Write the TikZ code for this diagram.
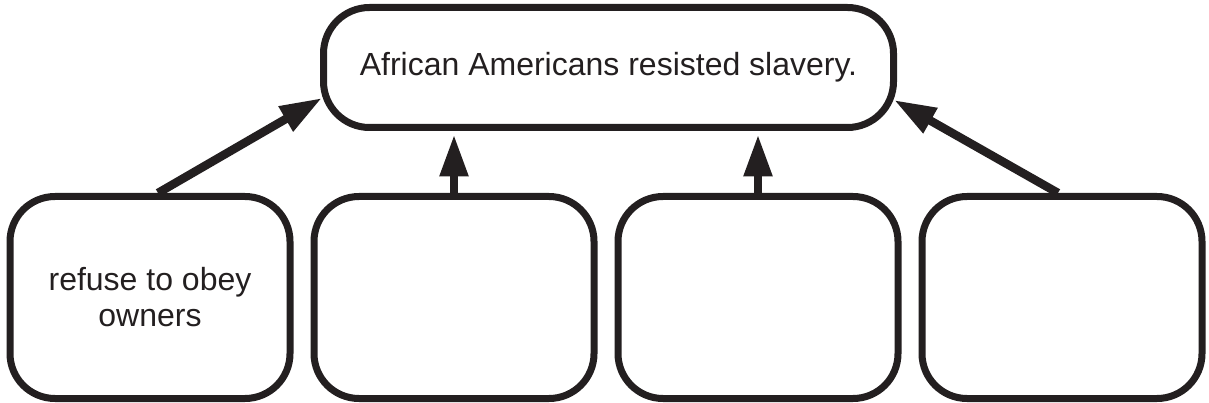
\documentclass[tikz,border=0pt]{standalone}
\usepackage{fontspec}
\setmainfont{Liberation Sans}
\usetikzlibrary{arrows.meta}
\definecolor{ink}{HTML}{231F20}
\begin{document}
\begin{tikzpicture}[x=1pt,y=-1pt,
  every node/.style={text=ink},
  box/.style={draw=ink, line width=7pt, rounded corners=45pt,
    minimum width=280pt, minimum height=202pt, inner sep=0pt,
    align=center, font=\fontsize{32}{36}\selectfont},
  topbox/.style={box, minimum width=570pt, minimum height=120pt, rounded corners=46pt},
  arr/.style={draw=ink, line width=8.5pt, -{Triangle[length=42pt,width=27pt]}},
  varr/.style={arr, shorten >=3.5pt}]
\useasboundingbox (0,0) rectangle (1209,403);
\node[topbox] (top) at (608.5,67.5) {African Americans resisted slavery.};
\node[box] (b1) at (150,297.5) {refuse to obey\\owners};
\node[box] (b2) at (454,297.5) {};
\node[box] (b3) at (758,297.5) {};
\node[box] (b4) at (1062,297.5) {};
\coordinate (tl) at (322,98);
\coordinate (tr) at (894,100);
\draw[arr] ([xshift=8pt]b1.north) -- (tl);
\draw[varr] (b2.north) -- (b2.north |- top.south);
\draw[varr] (b3.north) -- (b3.north |- top.south);
\draw[arr] ([xshift=-4pt]b4.north) -- (tr);
\end{tikzpicture}
\end{document}
